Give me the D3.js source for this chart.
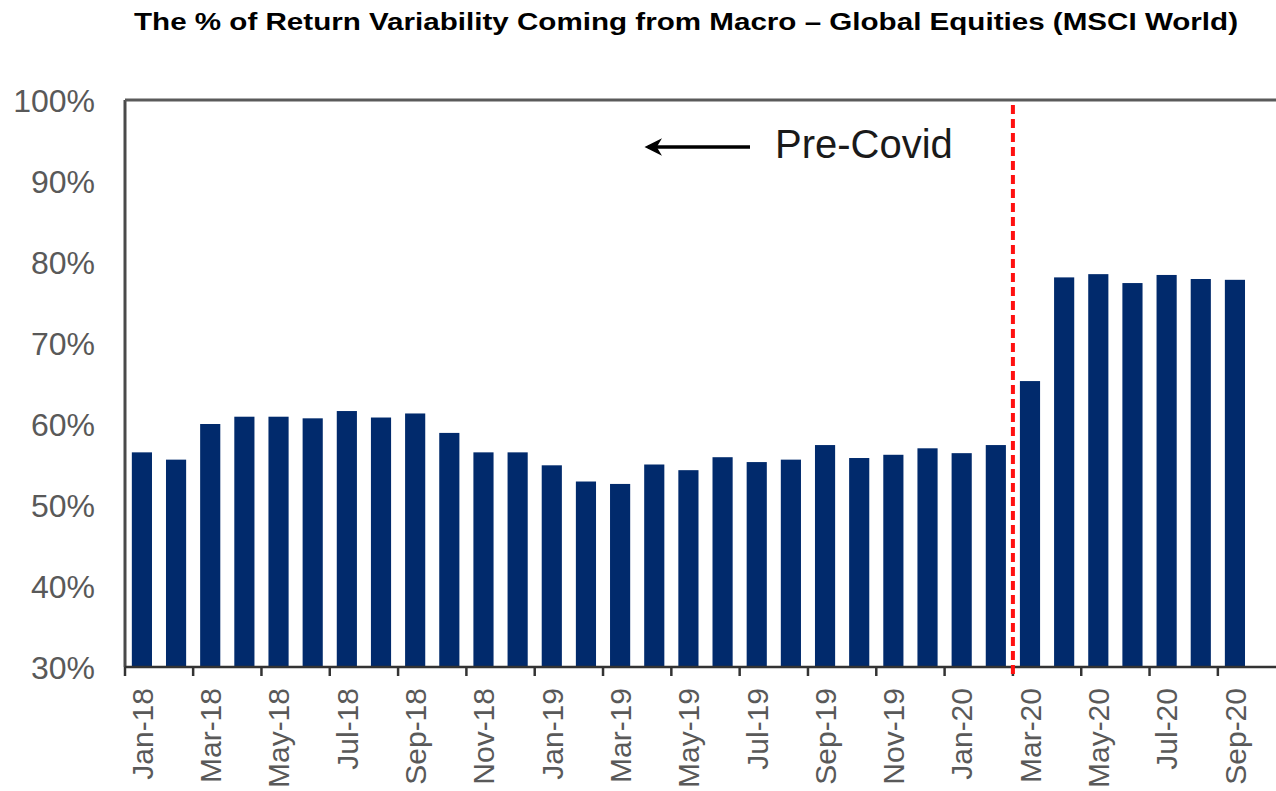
<!DOCTYPE html>
<html>
<head>
<meta charset="utf-8">
<script src="https://cdn.jsdelivr.net/npm/d3@7"></script>
<style>
  body { margin: 0; background: #fff; }
  text { font-family: "Liberation Sans", Arial, sans-serif; }
</style>
</head>
<body>
<div id="svganchor"></div>
<script>
// months shown on the x axis (Oct-20 is an empty slot at the right edge)
let months = ["Jan-18","Feb-18","Mar-18","Apr-18","May-18","Jun-18","Jul-18","Aug-18","Sep-18","Oct-18","Nov-18","Dec-18",
  "Jan-19","Feb-19","Mar-19","Apr-19","May-19","Jun-19","Jul-19","Aug-19","Sep-19","Oct-19","Nov-19","Dec-19",
  "Jan-20","Feb-20","Mar-20","Apr-20","May-20","Jun-20","Jul-20","Aug-20","Sep-20","Oct-20"]

// % of return variability coming from macro
let macroShare = [56.5, 55.6, 60.0, 60.9, 60.9, 60.7, 61.6, 60.8, 61.3, 58.9, 56.5, 56.5,
  54.9, 52.9, 52.6, 55.0, 54.3, 55.9, 55.3, 55.6, 57.4, 55.8, 56.2, 57.0,
  56.4, 57.4, 65.3, 78.1, 78.5, 77.4, 78.4, 77.9, 77.8]

let yTicks = [30, 40, 50, 60, 70, 80, 90, 100]
let tickMonths = months.filter(function (d, i) { return i % 2 == 0 })
let covidMonth = "Mar-20"

var margin = { top: 100, right: -10, bottom: 124, left: 125 },
  width = 1276 - margin.left - margin.right,
  height = 791 - margin.top - margin.bottom;

var svg = d3.select("#svganchor").append("svg")
  .attr("width", 1276)
  .attr("height", 791)

// title
svg.append("text")
  .attr("x", 686)
  .attr("y", 30)
  .attr("text-anchor", "middle")
  .attr("font-weight", "bold")
  .attr("font-size", "23px")
  .attr("fill", "#000")
  .attr("textLength", 1104)
  .attr("lengthAdjust", "spacingAndGlyphs")
  .text("The % of Return Variability Coming from Macro \u2013 Global Equities (MSCI World)")

var g = svg.append("g")
  .attr("transform", "translate(" + margin.left + "," + margin.top + ")")

var x = d3.scaleBand()
  .domain(months)
  .range([0, width])
  .paddingInner(0.41)
  .paddingOuter(0.2)

var y = d3.scaleLinear()
  .domain([30, 100])
  .range([height, 0])

// bars
g.selectAll("myBars")
  .data(macroShare)
  .enter()
  .append("rect")
  .attr("x", function (d, i) { return x(months[i]) })
  .attr("y", function (d) { return y(d) })
  .attr("width", x.bandwidth())
  .attr("height", function (d) { return height - y(d) })
  .attr("fill", "#012a6c")

// y axis labels
g.selectAll("yLabels")
  .data(yTicks)
  .enter()
  .append("text")
  .attr("x", -30)
  .attr("y", function (d) { return y(d) })
  .attr("dy", "0.36em")
  .attr("text-anchor", "end")
  .attr("font-size", "32px")
  .attr("fill", "#595959")
  .text(function (d) { return d + "%" })

// frame: left axis and top border
var step = x.step()
var bandStart = function (m) { return x(m) - step * x.paddingInner() / 2 }

g.append("line")
  .attr("x1", 0).attr("x2", 0)
  .attr("y1", 0).attr("y2", height)
  .attr("stroke", "#4a4a4a").attr("stroke-width", 3)
g.append("line")
  .attr("x1", 0).attr("x2", width)
  .attr("y1", 0).attr("y2", 0)
  .attr("stroke", "#5a5a5a").attr("stroke-width", 3)

// x axis
var xAxis = g.append("g")
  .attr("transform", "translate(0," + height + ")")
xAxis.append("line")
  .attr("x1", 0).attr("x2", width)
  .attr("stroke", "#333").attr("stroke-width", 2.5)
xAxis.selectAll("ticks")
  .data(tickMonths)
  .enter()
  .append("line")
  .attr("x1", function (d) { return Math.max(0, bandStart(d)) })
  .attr("x2", function (d) { return Math.max(0, bandStart(d)) })
  .attr("y1", 0).attr("y2", 9)
  .attr("stroke", "#333").attr("stroke-width", 2.5)
xAxis.selectAll("xLabels")
  .data(tickMonths.filter(function (d) { return months.indexOf(d) < macroShare.length }))
  .enter()
  .append("text")
  .attr("transform", function (d) {
    return "translate(" + (x(d) + x.bandwidth() / 2) + ",21) rotate(-90)"
  })
  .attr("dy", "0.36em")
  .attr("text-anchor", "end")
  .attr("font-size", "30px")
  .attr("fill", "#595959")
  .text(function (d) { return d })

// covid marker
var covidX = bandStart(covidMonth)
g.append("line")
  .attr("x1", covidX).attr("x2", covidX)
  .attr("y1", 5).attr("y2", height + 12)
  .attr("stroke", "#ff1010")
  .attr("stroke-width", 4)
  .attr("stroke-dasharray", "9,5")

// Pre-Covid annotation
svg.append("defs").append("marker")
  .attr("id", "arrow")
  .attr("viewBox", "0 0 10 10")
  .attr("refX", 8).attr("refY", 5)
  .attr("markerWidth", 6).attr("markerHeight", 5)
  .attr("markerUnits", "strokeWidth")
  .attr("orient", "auto")
  .append("path")
  .attr("d", "M0,0 L10,5 L0,10 L3,5 Z")
  .attr("fill", "#000")

g.append("line")
  .attr("x1", 625).attr("x2", 523)
  .attr("y1", 47).attr("y2", 47)
  .attr("stroke", "#000").attr("stroke-width", 3.5)
  .attr("marker-end", "url(#arrow)")

g.append("text")
  .attr("x", 650)
  .attr("y", 58)
  .attr("font-size", "40px")
  .attr("fill", "#1a1a1a")
  .text("Pre-Covid")
</script>
</body>
</html>
